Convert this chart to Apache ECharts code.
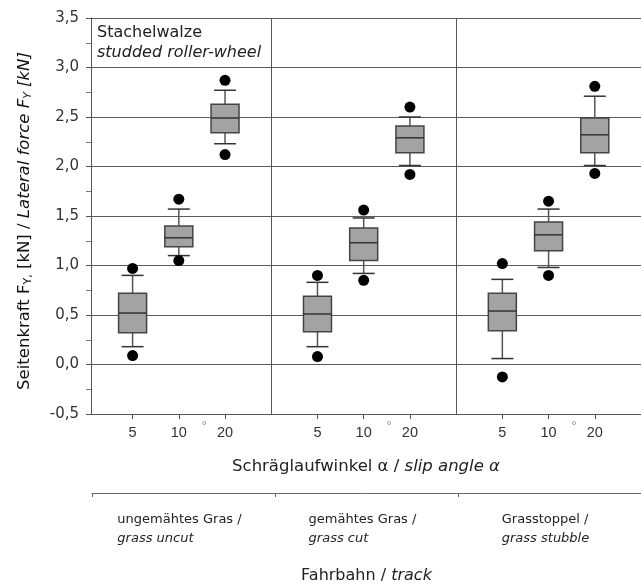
<!DOCTYPE html>
<html>
<head>
<meta charset="utf-8">
<script src="https://cdn.jsdelivr.net/npm/echarts@6/dist/echarts.min.js"></script>
<style>html,body{margin:0;padding:0;background:#fff}#c{width:641px;height:586px}</style>
</head>
<body>
<div id="c"></div>
<script>
// Categories
var angles = ['5', '10', '20'];
var tracksDe = ['ungemähtes Gras /', 'gemähtes Gras /', 'Grasstoppel /'];
var tracksEn = ['grass uncut', 'grass cut', 'grass stubble'];
var yTicks = [-0.5, 0, 0.5, 1, 1.5, 2, 2.5, 3, 3.5];

// Box statistics, order: track1 (5,10,20), track2 (5,10,20), track3 (5,10,20)
var whiskerLow  = [0.18, 1.10, 2.23,  0.18, 0.92, 2.01,  0.06, 0.98, 2.01];
var q1          = [0.32, 1.19, 2.34,  0.33, 1.05, 2.14,  0.34, 1.15, 2.14];
var median      = [0.52, 1.28, 2.49,  0.51, 1.23, 2.29,  0.54, 1.31, 2.32];
var q3          = [0.72, 1.40, 2.63,  0.69, 1.38, 2.41,  0.72, 1.44, 2.49];
var whiskerHigh = [0.90, 1.57, 2.77,  0.83, 1.48, 2.50,  0.86, 1.57, 2.71];
var outlierLow  = [0.09, 1.05, 2.12,  0.08, 0.85, 1.92, -0.125, 0.90, 1.93];
var outlierHigh = [0.97, 1.67, 2.87,  0.90, 1.56, 2.60,  1.02, 1.65, 2.81];

// slot positions on the x value axis (panel g, angle a) -> g*4 + a + 1
function slot(g, a) { return g * 4 + a + 1; }
var boxData = [], outData = [], tickPos = [], degPos = [], dividers = [];
for (var g = 0; g < tracksDe.length; g++) {
  for (var a = 0; a < angles.length; a++) {
    var i = g * 3 + a, x = slot(g, a);
    boxData.push([x, whiskerLow[i], q1[i], median[i], q3[i], whiskerHigh[i]]);
    outData.push([x, outlierLow[i]]);
    outData.push([x, outlierHigh[i]]);
    tickPos.push(x);
  }
  degPos.push(g * 4 + 2.55);
  if (g > 0) dividers.push(g * 4);
}
var labelOf = {};
tickPos.forEach(function (p, k) { labelOf[p] = angles[k % 3]; });

var FONT = '"DejaVu Sans", sans-serif';
var AFONT = '"Liberation Sans", Arial, sans-serif';
var TXT = '#333';
var chart = echarts.init(document.getElementById('c'));

chart.setOption({
  backgroundColor: '#fff',
  animation: false,
  title: {
    text: 'Stachelwalze',
    subtext: 'studded roller-wheel',
    left: 97, top: 25, padding: 0,
    itemGap: 4,
    textStyle: { fontFamily: FONT, fontSize: 16, fontWeight: 'normal', color: '#222' },
    subtextStyle: { fontFamily: FONT, fontSize: 16, fontStyle: 'italic', color: '#222' }
  },
  grid: [
    { left: 91, right: 0, top: 18, bottom: 172 },
    { left: 92, right: 0, top: 480, height: 13 }
  ],
  xAxis: [
    {
      type: 'value', gridIndex: 0, min: 0.1, max: 12,
      name: 'Schräglaufwinkel α / {it|slip angle α}',
      nameLocation: 'middle', nameGap: 44,
      nameTextStyle: { fontFamily: FONT, fontSize: 16.5, color: '#222',
        rich: { it: { fontFamily: FONT, fontSize: 16.5, fontStyle: 'italic', color: '#222' } } },
      axisLine: { onZero: false, lineStyle: { color: '#555', width: 1 } },
      axisTick: { show: true, length: 5, customValues: tickPos, lineStyle: { color: '#555' } },
      axisLabel: { customValues: tickPos, margin: 11, fontFamily: AFONT, fontSize: 14.5, color: TXT,
        formatter: function (v) { return labelOf[v] || ''; } },
      splitLine: { show: false }
    },
    {
      type: 'value', gridIndex: 0, min: 0.1, max: 12, position: 'bottom',
      axisLine: { show: false, onZero: false }, axisTick: { show: false }, splitLine: { show: false },
      axisLabel: { customValues: degPos, margin: 6, fontFamily: AFONT, fontSize: 13, color: '#888',
        formatter: function () { return '°'; } }
    },
    {
      type: 'category', gridIndex: 1, data: tracksDe, boundaryGap: true,
      name: 'Fahrbahn / {it|track}',
      nameLocation: 'middle', nameGap: 75,
      nameTextStyle: { fontFamily: FONT, fontSize: 16, color: '#222',
        rich: { it: { fontFamily: FONT, fontSize: 16, fontStyle: 'italic', color: '#222' } } },
      axisLine: { onZero: false, lineStyle: { color: '#666', width: 1 } },
      axisTick: { show: true, interval: 0, length: 4, lineStyle: { color: '#666' } },
      axisLabel: {
        interval: 0, hideOverlap: false,
        margin: 17, fontFamily: FONT, fontSize: 13, color: '#222', lineHeight: 19,
        padding: [0, 8, 0, 0],
        formatter: function (v, idx) {
          return '{a|' + v + '}\n{b|' + tracksEn[idx] + '}';
        },
        rich: {
          a: { fontFamily: FONT, fontSize: 13, color: '#222', align: 'left', lineHeight: 19 },
          b: { fontFamily: FONT, fontSize: 13, color: '#222', fontStyle: 'italic', align: 'left', lineHeight: 19 }
        }
      },
      splitLine: { show: false }
    }
  ],
  yAxis: [
    {
      type: 'value', gridIndex: 0, min: yTicks[0], max: yTicks[yTicks.length - 1], interval: 0.5,
      name: 'Seitenkraft F{sub|Y,} [kN] / {it|Lateral force F}{itsub|Y}{it| [kN]}',
      nameLocation: 'middle', nameGap: 57,
      nameTextStyle: { fontFamily: FONT, fontSize: 16.5, color: '#111', padding: [0, 10, 0, 0],
        rich: {
          sub: { fontFamily: FONT, fontSize: 11, color: '#111', verticalAlign: 'bottom', padding: [7, 0, 0, 0] },
          it: { fontFamily: FONT, fontSize: 16.5, fontStyle: 'italic', color: '#111' },
          itsub: { fontFamily: FONT, fontSize: 11, fontStyle: 'italic', color: '#111', verticalAlign: 'bottom', padding: [7, 0, 0, 0] }
        } },
      axisLine: { show: true, lineStyle: { color: '#555', width: 1 } },
      axisTick: { show: true, length: 5, lineStyle: { color: '#555' } },
      minorTick: { show: true, splitNumber: 2, length: 5, lineStyle: { color: '#777' } },
      axisLabel: { margin: 12, fontFamily: FONT, fontSize: 15, color: TXT,
        formatter: function (v) { return v.toFixed(1).replace('.', ','); } },
      splitLine: { show: true, lineStyle: { color: '#5a5a5a', width: 1 } }
    },
    { type: 'value', gridIndex: 1, show: false, min: 0, max: 1 }
  ],
  series: [
    {
      type: 'custom', xAxisIndex: 0, yAxisIndex: 0,
      data: boxData,
      z: 3,
      renderItem: function (params, api) {
        var x = api.value(0);
        var pLo = api.coord([x, api.value(1)]);
        var pQ1 = api.coord([x, api.value(2)]);
        var pMd = api.coord([x, api.value(3)]);
        var pQ3 = api.coord([x, api.value(4)]);
        var pHi = api.coord([x, api.value(5)]);
        var cx = pMd[0], bw = 28, cw = 22;
        var lineStyle = { stroke: '#555', lineWidth: 1.5 };
        var capStyle = { stroke: '#333', lineWidth: 1.5 };
        return {
          type: 'group',
          children: [
            { type: 'line', shape: { x1: cx, y1: pQ3[1], x2: cx, y2: pHi[1] }, style: lineStyle },
            { type: 'line', shape: { x1: cx, y1: pQ1[1], x2: cx, y2: pLo[1] }, style: lineStyle },
            { type: 'line', shape: { x1: cx - cw / 2, y1: pHi[1], x2: cx + cw / 2, y2: pHi[1] }, style: capStyle },
            { type: 'line', shape: { x1: cx - cw / 2, y1: pLo[1], x2: cx + cw / 2, y2: pLo[1] }, style: capStyle },
            { type: 'rect', shape: { x: cx - bw / 2, y: pQ3[1], width: bw, height: pQ1[1] - pQ3[1] },
              style: { fill: '#a3a3a3', stroke: '#444', lineWidth: 1.5 } },
            { type: 'line', shape: { x1: cx - bw / 2, y1: pMd[1], x2: cx + bw / 2, y2: pMd[1] },
              style: { stroke: '#333', lineWidth: 1.5 } }
          ]
        };
      },
      markLine: {
        silent: true, symbol: 'none', label: { show: false },
        lineStyle: { color: '#555', width: 1, type: 'solid' },
        data: dividers.map(function (d) { return { xAxis: d }; })
      }
    },
    {
      type: 'scatter', xAxisIndex: 0, yAxisIndex: 0,
      data: outData, symbol: 'circle', symbolSize: 11, z: 4,
      itemStyle: { color: '#000', opacity: 1 }
    }
  ]
});
</script>
</body>
</html>
